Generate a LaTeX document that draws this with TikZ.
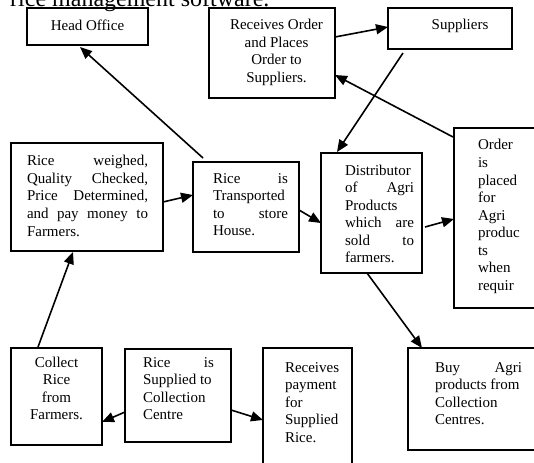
\documentclass[tikz,border=0pt]{standalone}
\usepackage{fontspec}
\setmainfont{Liberation Serif}
\usetikzlibrary{arrows.meta}
\newcommand\fs{\fontsize{15pt}{17.5pt}\selectfont}
% #1 box width, #2 box height, #3 first baseline from top, #4 left pad, #5 text width, #6 lines
\newcommand\bt[6]{\parbox[c][#2][t]{#1}{\vspace*{\dimexpr#3-12.25pt\relax}\hspace*{#4}\parbox[t]{#5}{\fs\strut #6}}}
\newcommand\jl[1]{\hbox to \linewidth{#1}}
\tikzset{
  box/.style={draw, line width=1.5pt, inner sep=0pt, outer sep=0pt, anchor=north west},
  arr/.style={line width=1.6pt, -{Triangle[length=12pt,width=10pt]}},
}
\begin{document}
\begin{tikzpicture}[x=1pt,y=-1pt]
\useasboundingbox (0,0) rectangle (534,462);
\clip (0,0) rectangle (534,462);
\node[anchor=base west, inner sep=0pt, font=\fontsize{24pt}{28pt}\selectfont] (title) at (10,6.5) {rice management software.};

\node[box] (ho) at (27,8) {\bt{121pt}{37pt}{23pt}{0pt}{121pt}{\centering Head Office}};
\node[box] (ro) at (209,8) {\bt{126pt}{90pt}{22pt}{10pt}{115pt}{\centering Receives Order\\and Places\\Order to\\Suppliers.}};
\node[box] (sup) at (388,8) {\bt{124pt}{41pt}{22pt}{20pt}{104pt}{\centering Suppliers}};
\node[box] (rw) at (11,143) {\bt{152pt}{108pt}{23pt}{16pt}{121pt}{\jl{Rice weighed,}\\\jl{Quality Checked,}\\\jl{Price Determined,}\\\jl{and pay money to}\\Farmers.}};
\node[box] (rt) at (193,162) {\bt{106pt}{90pt}{21pt}{20pt}{75pt}{\jl{Rice is}\\\jl{Transported}\\\jl{to store}\\House.}};
\node[box] (dist) at (321,153) {\bt{101pt}{120pt}{22pt}{24pt}{69pt}{\jl{Distributor}\\\jl{of Agri}\\Products\\\jl{which are}\\\jl{sold to}\\farmers.}};
\node[box] (op) at (454,128) {\bt{90pt}{180pt}{22pt}{24pt}{60pt}{Order\\is\\placed\\for\\Agri\\produc\\ts\\when\\requir}};
\node[box] (cr) at (11,348) {\bt{91pt}{97pt}{19pt}{0pt}{91pt}{\centering Collect\\Rice\\from\\Farmers.}};
\node[box] (rs) at (125,349) {\bt{106pt}{93pt}{18pt}{18pt}{71pt}{\jl{Rice is}\\Supplied to\\Collection\\Centre}};
\node[box] (rp) at (263,348) {\bt{89pt}{130pt}{24pt}{22pt}{62pt}{Receives\\payment\\for\\Supplied\\Rice.}};
\node[box] (ba) at (408,348) {\bt{140pt}{102pt}{24pt}{27pt}{87pt}{\jl{Buy Agri}\\products from\\Collection\\Centres.}};

\draw[arr] ([shift={(0,29)}]ro.north east) -- ([shift={(0,19)}]sup.north west);
\draw[arr] ([shift={(15,4)}]sup.south west) -- ([shift={(16,-1)}]dist.north west);
\draw[arr] ([shift={(-1,9)}]op.north west) -- ([shift={(0,67)}]ro.north east);
\draw[arr] ([shift={(10,-4)}]rt.north west) -- ([shift={(53,2)}]ho.south west);
\draw[arr] ([shift={(0,59)}]rw.north east) -- ([shift={(0,33)}]rt.north west);
\draw[arr] ([shift={(0,48)}]rt.north east) -- ([shift={(0,70)}]dist.north west);
\draw[arr] ([shift={(3,74)}]dist.north east) -- ([shift={(0,91)}]op.north west);
\draw[arr] ([shift={(46,0)}]dist.south west) -- ([shift={(14,0)}]ba.north west);
\draw[arr] ([shift={(27,-1)}]cr.north west) -- ([shift={(62,1)}]rw.south west);
\draw[arr] ([shift={(0,63)}]rs.north west) -- ([shift={(0,74)}]cr.north east);
\draw[arr] ([shift={(0,61)}]rs.north east) -- ([shift={(0,72)}]rp.north west);
\end{tikzpicture}
\end{document}
